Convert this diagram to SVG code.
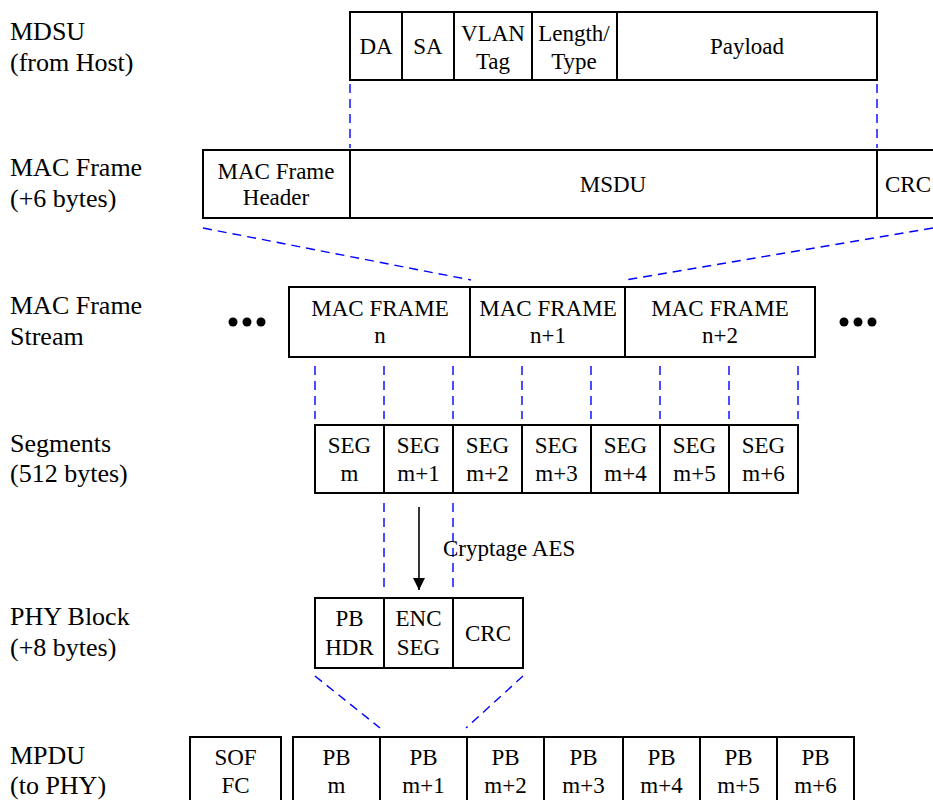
<svg xmlns="http://www.w3.org/2000/svg" width="933" height="800" viewBox="0 0 933 800" font-family="'Liberation Serif', 'Times New Roman', serif">
<style>
.box{fill:#fff;stroke:#000;stroke-width:2}
.lbl{font-size:26px;fill:#000}
.t{font-size:23px;fill:#000;text-anchor:middle}
.dash{stroke:#0000ff;stroke-width:1.4;stroke-dasharray:9,6;fill:none}
.sep{stroke:#000;stroke-width:2}
</style>
<defs>
<marker id="ah" markerWidth="12" markerHeight="12" refX="10" refY="5" orient="auto" markerUnits="userSpaceOnUse" viewBox="0 0 10 10">
<path d="M0,0 L10,5 L0,10 z" fill="#000"/>
</marker>
</defs>
<rect width="933" height="800" fill="#fff"/>
<g id="labels">
<text class="lbl" x="10" y="40">MDSU</text>
<text class="lbl" x="10" y="71">(from Host)</text>
<text class="lbl" x="10" y="176">MAC Frame</text>
<text class="lbl" x="10" y="207">(+6 bytes)</text>
<text class="lbl" x="10" y="314">MAC Frame</text>
<text class="lbl" x="10" y="345">Stream</text>
<text class="lbl" x="10" y="452">Segments</text>
<text class="lbl" x="10" y="482">(512 bytes)</text>
<text class="lbl" x="10" y="625">PHY Block</text>
<text class="lbl" x="10" y="656">(+8 bytes)</text>
<text class="lbl" x="10" y="764">MPDU</text>
<text class="lbl" x="10" y="794">(to PHY)</text>
</g>
<g id="connectors">
<line class="dash" x1="350" y1="84" x2="350" y2="148"/>
<line class="dash" x1="877" y1="84" x2="877" y2="148"/>
<line class="dash" x1="203" y1="228" x2="471" y2="280"/>
<line class="dash" x1="933" y1="228" x2="625" y2="280"/>
<line class="dash" x1="315" y1="366" x2="315" y2="419"/>
<line class="dash" x1="384" y1="366" x2="384" y2="419"/>
<line class="dash" x1="453" y1="366" x2="453" y2="419"/>
<line class="dash" x1="522" y1="366" x2="522" y2="419"/>
<line class="dash" x1="591" y1="366" x2="591" y2="419"/>
<line class="dash" x1="660" y1="366" x2="660" y2="419"/>
<line class="dash" x1="729" y1="366" x2="729" y2="419"/>
<line class="dash" x1="798" y1="366" x2="798" y2="419"/>
<line class="dash" x1="384" y1="503" x2="384" y2="590"/>
<line class="dash" x1="453" y1="503" x2="453" y2="590"/>
<line x1="419" y1="507" x2="419" y2="590" stroke="#000" stroke-width="1.6" marker-end="url(#ah)"/>
<text x="443" y="556" font-size="23">Cryptage AES</text>
<line class="dash" x1="315" y1="676" x2="380" y2="728"/>
<line class="dash" x1="523" y1="676" x2="466" y2="728"/>
</g>
<g id="msdu-row">
<rect class="box" x="350" y="12" width="527" height="68"/>
<line class="sep" x1="402" y1="12" x2="402" y2="80"/>
<line class="sep" x1="454" y1="12" x2="454" y2="80"/>
<line class="sep" x1="532" y1="12" x2="532" y2="80"/>
<line class="sep" x1="617" y1="12" x2="617" y2="80"/>
<text class="t" x="376" y="54">DA</text>
<text class="t" x="428" y="54">SA</text>
<text class="t" x="493" y="41">VLAN</text>
<text class="t" x="493" y="69">Tag</text>
<text class="t" x="574" y="41">Length/</text>
<text class="t" x="574" y="69">Type</text>
<text class="t" x="747" y="54">Payload</text>
</g>
<g id="mac-frame-row">
<rect class="box" x="203" y="150" width="740" height="68"/>
<line class="sep" x1="350" y1="150" x2="350" y2="218"/>
<line class="sep" x1="877" y1="150" x2="877" y2="218"/>
<text class="t" x="276" y="179">MAC Frame</text>
<text class="t" x="276" y="205">Header</text>
<text class="t" x="613" y="192">MSDU</text>
<text class="t" x="908" y="192">CRC</text>
</g>
<g id="stream-row">
<circle cx="233" cy="322" r="4.5"/><circle cx="247" cy="322" r="4.5"/><circle cx="261" cy="322" r="4.5"/>
<rect class="box" x="289" y="287" width="526" height="70"/>
<line class="sep" x1="470" y1="287" x2="470" y2="357"/>
<line class="sep" x1="625" y1="287" x2="625" y2="357"/>
<text class="t" x="380" y="316">MAC FRAME</text>
<text class="t" x="380" y="343">n</text>
<text class="t" x="548" y="316">MAC FRAME</text>
<text class="t" x="548" y="343">n+1</text>
<text class="t" x="720" y="316">MAC FRAME</text>
<text class="t" x="720" y="343">n+2</text>
<circle cx="844" cy="322" r="4.5"/><circle cx="858" cy="322" r="4.5"/><circle cx="872" cy="322" r="4.5"/>
</g>
<g id="segments-row">
<rect class="box" x="315" y="425" width="483" height="68"/>
<line class="sep" x1="384" y1="425" x2="384" y2="493"/>
<line class="sep" x1="453" y1="425" x2="453" y2="493"/>
<line class="sep" x1="522" y1="425" x2="522" y2="493"/>
<line class="sep" x1="591" y1="425" x2="591" y2="493"/>
<line class="sep" x1="660" y1="425" x2="660" y2="493"/>
<line class="sep" x1="729" y1="425" x2="729" y2="493"/>
<text class="t" x="349.5" y="453">SEG</text><text class="t" x="349.5" y="481">m</text>
<text class="t" x="418.5" y="453">SEG</text><text class="t" x="418.5" y="481">m+1</text>
<text class="t" x="487.5" y="453">SEG</text><text class="t" x="487.5" y="481">m+2</text>
<text class="t" x="556.5" y="453">SEG</text><text class="t" x="556.5" y="481">m+3</text>
<text class="t" x="625.5" y="453">SEG</text><text class="t" x="625.5" y="481">m+4</text>
<text class="t" x="694.5" y="453">SEG</text><text class="t" x="694.5" y="481">m+5</text>
<text class="t" x="763.5" y="453">SEG</text><text class="t" x="763.5" y="481">m+6</text>
</g>
<g id="phy-block">
<rect class="box" x="315" y="598" width="208" height="70"/>
<line class="sep" x1="384" y1="598" x2="384" y2="668"/>
<line class="sep" x1="453" y1="598" x2="453" y2="668"/>
<text class="t" x="349.5" y="626">PB</text><text class="t" x="349.5" y="655">HDR</text>
<text class="t" x="418.5" y="626">ENC</text><text class="t" x="418.5" y="655">SEG</text>
<text class="t" x="488" y="641">CRC</text>
</g>
<g id="mpdu-sof">
<rect class="box" x="190" y="737" width="91" height="80"/>
<text class="t" x="235.5" y="765">SOF</text><text class="t" x="235.5" y="793">FC</text>
</g>
<g id="mpdu-pbs">
<rect class="box" x="293" y="737" width="561" height="80"/>
<line class="sep" x1="380" y1="737" x2="380" y2="800"/>
<line class="sep" x1="467" y1="737" x2="467" y2="800"/>
<line class="sep" x1="544" y1="737" x2="544" y2="800"/>
<line class="sep" x1="623" y1="737" x2="623" y2="800"/>
<line class="sep" x1="700" y1="737" x2="700" y2="800"/>
<line class="sep" x1="777" y1="737" x2="777" y2="800"/>
<text class="t" x="336.5" y="765">PB</text><text class="t" x="336.5" y="793">m</text>
<text class="t" x="423.5" y="765">PB</text><text class="t" x="423.5" y="793">m+1</text>
<text class="t" x="505.5" y="765">PB</text><text class="t" x="505.5" y="793">m+2</text>
<text class="t" x="583.5" y="765">PB</text><text class="t" x="583.5" y="793">m+3</text>
<text class="t" x="661.5" y="765">PB</text><text class="t" x="661.5" y="793">m+4</text>
<text class="t" x="738.5" y="765">PB</text><text class="t" x="738.5" y="793">m+5</text>
<text class="t" x="815.5" y="765">PB</text><text class="t" x="815.5" y="793">m+6</text>
</g>
</svg>
